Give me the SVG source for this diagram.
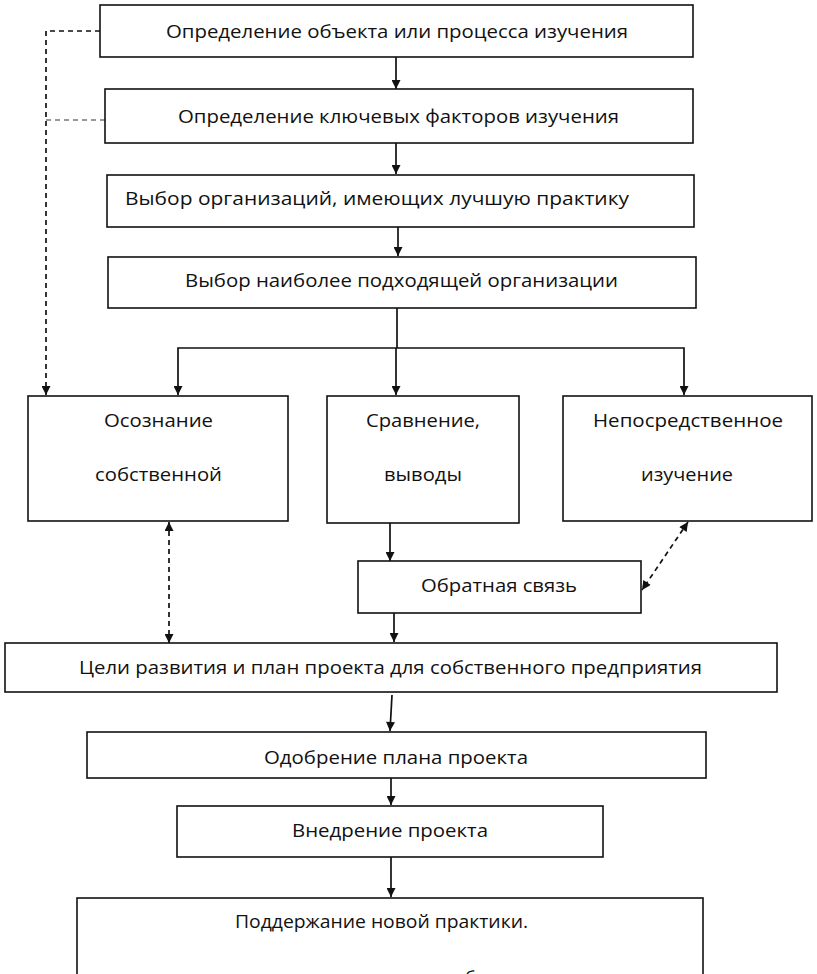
<svg xmlns="http://www.w3.org/2000/svg" width="817" height="974" viewBox="0 0 817 974">
  <style>
    .box { fill: #fff; stroke: #111; stroke-width: 1.6; }
    .lbl { font-family: "Open Sans", "Noto Sans", "DejaVu Sans", sans-serif; font-size: 17.5px; fill: #111; }
    .flow { fill: none; stroke: #111; stroke-width: 1.7; }
    .dash { fill: none; stroke: #111; stroke-width: 1.7; stroke-dasharray: 5 4; }
    .dash-thin { fill: none; stroke: #333; stroke-width: 1.1; stroke-dasharray: 5 4; }
  </style>
  <defs>
    <marker id="ah" viewBox="0 0 10 10" refX="10" refY="5" markerWidth="10" markerHeight="9" markerUnits="userSpaceOnUse" orient="auto-start-reverse">
      <path d="M0,0 L10,5 L0,10 z" fill="#111"/>
    </marker>
  </defs>
  <rect width="817" height="974" fill="#fff"/>

  <g id="connectors">
    <!-- main vertical chain -->
    <line class="flow" x1="396" y1="57" x2="396" y2="89" marker-end="url(#ah)"/>
    <line class="flow" x1="396" y1="143" x2="396" y2="174" marker-end="url(#ah)"/>
    <line class="flow" x1="398" y1="227" x2="398" y2="256" marker-end="url(#ah)"/>
    <!-- fan-out to the three analysis boxes -->
    <line class="flow" x1="397" y1="308" x2="397" y2="348"/>
    <polyline class="flow" points="178,395 178,348 684,348 684,395" marker-start="url(#ah)" marker-end="url(#ah)"/>
    <line class="flow" x1="396" y1="348" x2="396" y2="395" marker-end="url(#ah)"/>
    <!-- dashed feedback from the first two steps -->
    <polyline class="dash" points="100,31 46,31 46,395" marker-end="url(#ah)"/>
    <line class="dash-thin" x1="46" y1="120" x2="105" y2="120"/>
    <!-- comparison to feedback and goals -->
    <line class="flow" x1="390" y1="523" x2="390" y2="561" marker-end="url(#ah)"/>
    <line class="flow" x1="394" y1="613" x2="394" y2="642" marker-end="url(#ah)"/>
    <!-- two-way dashed links -->
    <line class="dash" x1="169" y1="522" x2="169" y2="643" marker-start="url(#ah)" marker-end="url(#ah)"/>
    <line class="dash" x1="688" y1="522" x2="642" y2="590" marker-start="url(#ah)" marker-end="url(#ah)"/>
    <!-- lower chain -->
    <line class="flow" x1="392" y1="695" x2="390" y2="731" marker-end="url(#ah)"/>
    <line class="flow" x1="391" y1="778" x2="391" y2="805" marker-end="url(#ah)"/>
    <line class="flow" x1="391" y1="857" x2="391" y2="897" marker-end="url(#ah)"/>
  </g>

  <g id="n-object">
    <rect class="box" x="100" y="5" width="593" height="52"/>
    <text class="lbl" x="166" y="38" textLength="462" lengthAdjust="spacingAndGlyphs">Определение объекта или процесса изучения</text>
  </g>
  <g id="n-factors">
    <rect class="box" x="105" y="89" width="588" height="54"/>
    <text class="lbl" x="178" y="123" textLength="441" lengthAdjust="spacingAndGlyphs">Определение ключевых факторов изучения</text>
  </g>
  <g id="n-select-orgs">
    <rect class="box" x="107" y="175" width="587" height="52"/>
    <text class="lbl" x="125" y="205" textLength="504" lengthAdjust="spacingAndGlyphs">Выбор организаций, имеющих лучшую практику</text>
  </g>
  <g id="n-select-best">
    <rect class="box" x="108" y="257" width="588" height="51"/>
    <text class="lbl" x="185" y="287" textLength="433" lengthAdjust="spacingAndGlyphs">Выбор наиболее подходящей организации</text>
  </g>
  <g id="n-awareness">
    <rect class="box" x="28" y="396" width="260" height="125"/>
    <text class="lbl" x="104" y="427" textLength="109" lengthAdjust="spacingAndGlyphs">Осознание</text>
    <text class="lbl" x="95" y="481" textLength="127" lengthAdjust="spacingAndGlyphs">собственной</text>
  </g>
  <g id="n-compare">
    <rect class="box" x="327" y="396" width="192" height="127"/>
    <text class="lbl" x="366" y="427" textLength="114" lengthAdjust="spacingAndGlyphs">Сравнение,</text>
    <text class="lbl" x="384" y="481" textLength="78" lengthAdjust="spacingAndGlyphs">выводы</text>
  </g>
  <g id="n-study">
    <rect class="box" x="563" y="396" width="249" height="125"/>
    <text class="lbl" x="593" y="427" textLength="190" lengthAdjust="spacingAndGlyphs">Непосредственное</text>
    <text class="lbl" x="641" y="481" textLength="92" lengthAdjust="spacingAndGlyphs">изучение</text>
  </g>
  <g id="n-feedback">
    <rect class="box" x="358" y="561" width="283" height="52"/>
    <text class="lbl" x="421" y="592" textLength="156" lengthAdjust="spacingAndGlyphs">Обратная связь</text>
  </g>
  <g id="n-goals">
    <rect class="box" x="5" y="643" width="772" height="49"/>
    <text class="lbl" x="79" y="674" textLength="623" lengthAdjust="spacingAndGlyphs">Цели развития и план проекта для собственного предприятия</text>
  </g>
  <g id="n-approval">
    <rect class="box" x="87" y="732" width="619" height="46"/>
    <text class="lbl" x="264" y="764" textLength="264" lengthAdjust="spacingAndGlyphs">Одобрение плана проекта</text>
  </g>
  <g id="n-implement">
    <rect class="box" x="177" y="806" width="426" height="51"/>
    <text class="lbl" x="292" y="837" textLength="196" lengthAdjust="spacingAndGlyphs">Внедрение проекта</text>
  </g>
  <g id="n-sustain">
    <rect class="box" x="77" y="898" width="626" height="90"/>
    <text class="lbl" x="235" y="928" textLength="293" lengthAdjust="spacingAndGlyphs">Поддержание новой практики.</text>
    <!-- second line continues below the page edge; only its top shows -->
    <text class="lbl" x="465" y="984">б</text>
  </g>
</svg>
